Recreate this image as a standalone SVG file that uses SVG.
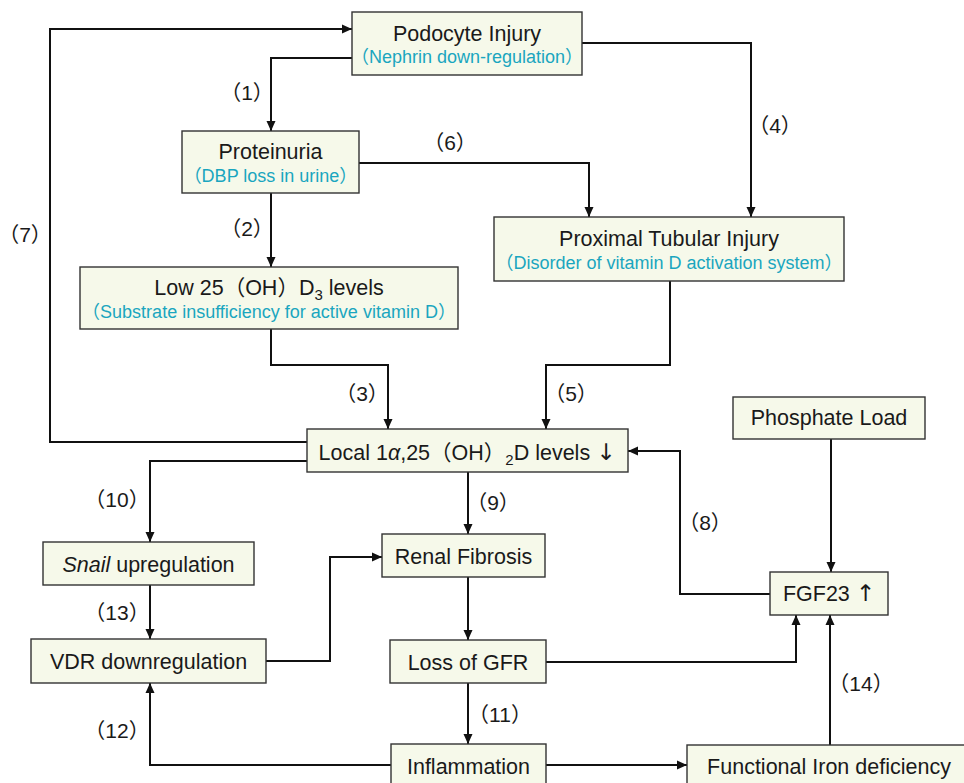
<svg xmlns="http://www.w3.org/2000/svg" width="964" height="783" viewBox="0 0 964 783">
<style>
.box{fill:#f6f9ea;stroke:#333;stroke-width:1.4}
.t{font-family:"Liberation Sans","Noto Sans CJK JP",sans-serif;font-size:21.5px;fill:#1a1a1a;text-anchor:middle}
.s{font-family:"Liberation Sans","Noto Sans CJK JP",sans-serif;font-size:18px;fill:#1aa6bf;text-anchor:middle}
.l{font-family:"Liberation Sans","Noto Sans CJK JP",sans-serif;font-size:21px;fill:#1a1a1a;text-anchor:middle}
.c{fill:none;stroke:#111;stroke-width:2;marker-end:url(#a)}
.ar{font-family:"DejaVu Sans",sans-serif;font-size:23px}
</style>
<defs>
<marker id="a" viewBox="0 0 10 10" refX="10" refY="5" markerWidth="10" markerHeight="10" markerUnits="userSpaceOnUse" orient="auto">
<path d="M0,0.5 L10,5 L0,9.5 Z" fill="#111"/>
</marker>
</defs>
<rect width="964" height="783" fill="#fff"/>
<g id="connectors">
<path class="c" d="M352,58 H271 V131"/>
<path class="c" d="M307,442 H50 V29 H352"/>
<path class="c" d="M582,43 H751 V217"/>
<path class="c" d="M359,163 H589 V217"/>
<path class="c" d="M271,193 V267"/>
<path class="c" d="M271,329 V365 H388 V429"/>
<path class="c" d="M670,281 V365 H546 V429"/>
<path class="c" d="M770,594 H680 V451 H628"/>
<path class="c" d="M468,472 V534"/>
<path class="c" d="M307,461 H150 V542"/>
<path class="c" d="M150,585 V639"/>
<path class="c" d="M266,661 H330 V557 H382"/>
<path class="c" d="M468,577 V640"/>
<path class="c" d="M468,683 V744"/>
<path class="c" d="M391,765 H150 V683"/>
<path class="c" d="M546,765 H687"/>
<path class="c" d="M830,745 V615"/>
<path class="c" d="M546,662 H796 V615"/>
<path class="c" d="M831,439 V572"/>
<text class="l" x="247" y="100">（1）</text>
<text class="l" x="247" y="236">（2）</text>
<text class="l" x="362" y="401">（3）</text>
<text class="l" x="775" y="133">（4）</text>
<text class="l" x="571" y="401">（5）</text>
<text class="l" x="450" y="150">（6）</text>
<text class="l" x="25" y="242">（7）</text>
<text class="l" x="705" y="530">（8）</text>
<text class="l" x="493" y="510">（9）</text>
<text class="l" x="117" y="507">（10）</text>
<text class="l" x="500" y="722">（11）</text>
<text class="l" x="117" y="738">（12）</text>
<text class="l" x="117" y="620">（13）</text>
<text class="l" x="861" y="691">（14）</text>
</g>
<g id="podocyte">
<rect class="box" x="352" y="12" width="230" height="63"/>
<text class="t" x="467" y="41">Podocyte Injury</text>
<text class="s" x="467" y="63">（Nephrin down-regulation）</text>
</g>
<g id="proteinuria">
<rect class="box" x="182" y="131" width="177" height="62"/>
<text class="t" x="270.5" y="159">Proteinuria</text>
<text class="s" x="270.5" y="182">（DBP loss in urine）</text>
</g>
<g id="low25">
<rect class="box" x="80" y="267" width="378" height="62"/>
<text class="t" x="269" y="295">Low 25（OH）D<tspan font-size="15" dy="5">3</tspan><tspan dy="-5"> levels</tspan></text>
<text class="s" x="269" y="318">（Substrate insufficiency for active vitamin D）</text>
</g>
<g id="proximal">
<rect class="box" x="494" y="217" width="350" height="64"/>
<text class="t" x="669" y="246">Proximal Tubular Injury</text>
<text class="s" x="669" y="269">（Disorder of vitamin D activation system）</text>
</g>
<g id="local">
<rect class="box" x="307" y="429" width="321" height="43"/>
<text class="t" x="467" y="460">Local 1<tspan font-style="italic">α</tspan>,25（OH）<tspan font-size="15" dy="5">2</tspan><tspan dy="-5">D levels <tspan class="ar">↓</tspan></tspan></text>
</g>
<g id="phosphate">
<rect class="box" x="733" y="397" width="192" height="42"/>
<text class="t" x="829" y="425">Phosphate Load</text>
</g>
<g id="fgf23">
<rect class="box" x="770" y="572" width="118" height="43"/>
<text class="t" x="829" y="601">FGF23 <tspan class="ar">↑</tspan></text>
</g>
<g id="snail">
<rect class="box" x="43" y="542" width="211" height="43"/>
<text class="t" x="148.5" y="572"><tspan font-style="italic">Snail</tspan> upregulation</text>
</g>
<g id="vdr">
<rect class="box" x="31" y="639" width="235" height="44"/>
<text class="t" x="148.5" y="669">VDR downregulation</text>
</g>
<g id="renal">
<rect class="box" x="382" y="534" width="163" height="43"/>
<text class="t" x="463.5" y="564">Renal Fibrosis</text>
</g>
<g id="gfr">
<rect class="box" x="390" y="640" width="156" height="43"/>
<text class="t" x="468" y="670">Loss of GFR</text>
</g>
<g id="inflammation">
<rect class="box" x="391" y="744" width="155" height="50"/>
<text class="t" x="468.5" y="774">Inflammation</text>
</g>
<g id="iron">
<rect class="box" x="687" y="745" width="290" height="50"/>
<text class="t" x="829" y="774">Functional Iron deficiency</text>
</g>
</svg>
